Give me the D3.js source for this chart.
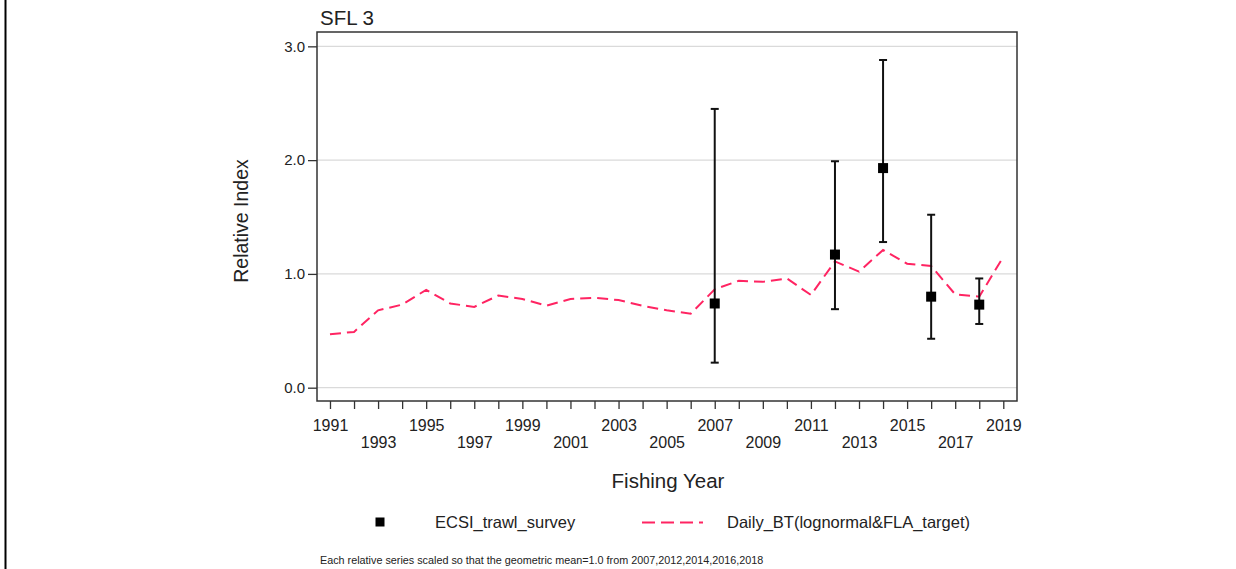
<!DOCTYPE html>
<html><head><meta charset="utf-8">
<script src="https://cdn.jsdelivr.net/npm/d3@7"></script>
<style>
html,body{margin:0;padding:0;background:#fff;}
svg{display:block;font-family:"Liberation Sans",Arial,Helvetica,sans-serif;}
</style></head>
<body>
<svg id="chart" width="1236" height="569"></svg>
<script>
const years = [1991,1992,1993,1994,1995,1996,1997,1998,1999,2000,2001,2002,2003,2004,2005,2006,2007,2008,2009,2010,2011,2012,2013,2014,2015,2016,2017,2018,2019];
const dailyBT = [0.47,0.49,0.68,0.73,0.86,0.74,0.71,0.81,0.78,0.72,0.78,0.79,0.77,0.72,0.68,0.65,0.865,0.94,0.93,0.96,0.815,1.11,1.02,1.21,1.09,1.07,0.82,0.80,1.15];
const surveyYears = [2007,2012,2014,2016,2018];
const surveyIndex = [0.74,1.17,1.93,0.80,0.73];
const surveyLower = [0.22,0.69,1.28,0.43,0.56];
const surveyUpper = [2.45,1.99,2.88,1.52,0.96];
const yTicks = [0,1,2,3];
const seriesNames = ["ECSI_trawl_survey","Daily_BT(lognormal&FLA_target)"];
const titleText = "SFL 3";
const xLabel = "Fishing Year";
const yLabel = "Relative Index";
const footnote = "Each relative series scaled so that the geometric mean=1.0 from 2007,2012,2014,2016,2018";

const svg = d3.select("#chart");
const L = 317, R = 1017, T = 32, B = 401;
const x = d3.scaleLinear().domain([1990.46, 2019.57]).range([L, R]);
const y = d3.scaleLinear().domain([-0.117, 3.126]).range([B, T]);
const lineColor = "#ff2462";
const FF = "Liberation Sans, Arial, sans-serif";

// page left border
svg.append("line").attr("x1",5.5).attr("x2",5.5).attr("y1",0).attr("y2",569)
  .attr("stroke","#000").attr("stroke-width",2);

// gridlines
svg.append("g").selectAll("line").data(yTicks).join("line")
  .attr("x1",L).attr("x2",R).attr("y1",d=>y(d)).attr("y2",d=>y(d))
  .attr("stroke","#dadada").attr("stroke-width",1.2);

// y axis
const yAx = svg.append("g").attr("transform",`translate(${L},0)`)
  .call(d3.axisLeft(y).tickValues(yTicks).tickFormat(d3.format(".1f")).tickSize(9).tickPadding(3));
yAx.select(".domain").remove();
yAx.selectAll("text").attr("font-size",15).attr("fill","#222").attr("font-family",FF);
yAx.selectAll("line").attr("stroke","#333").attr("stroke-width",1.3);

// x axis
const xAx = svg.append("g").attr("transform",`translate(0,${B})`)
  .call(d3.axisBottom(x).tickValues(years).tickFormat(d3.format("d")).tickSize(8));
xAx.select(".domain").remove();
xAx.selectAll("line").attr("stroke","#333").attr("stroke-width",1.3);
xAx.selectAll("text")
  .text(d => (d % 2 === 1) ? d : "")
  .attr("dy",null)
  .attr("y", d => ((d - 1991) % 4 === 0) ? 30 : 47)
  .attr("font-size",16).attr("fill","#222").attr("font-family",FF);

// frame
svg.append("rect").attr("x",L).attr("y",T).attr("width",R-L).attr("height",B-T)
  .attr("fill","none").attr("stroke","#333").attr("stroke-width",1.5);

// Daily_BT line
const lineGen = d3.line().x((d,i)=>x(years[i])).y(d=>y(d));
svg.append("path").datum(dailyBT).attr("d",lineGen)
  .attr("fill","none").attr("stroke",lineColor).attr("stroke-width",2)
  .attr("stroke-dasharray","11,6");

// survey error bars and points
const surv = surveyYears.map((yr,i)=>({yr, v:surveyIndex[i], lo:surveyLower[i], hi:surveyUpper[i]}));
const eg = svg.append("g");
eg.selectAll("line.bar").data(surv).join("line").attr("class","bar")
  .attr("x1",d=>x(d.yr)).attr("x2",d=>x(d.yr)).attr("y1",d=>y(d.lo)).attr("y2",d=>y(d.hi))
  .attr("stroke","#111").attr("stroke-width",2);
eg.selectAll("line.capH").data(surv).join("line").attr("class","capH")
  .attr("x1",d=>x(d.yr)-4).attr("x2",d=>x(d.yr)+4).attr("y1",d=>y(d.hi)).attr("y2",d=>y(d.hi))
  .attr("stroke","#111").attr("stroke-width",2);
eg.selectAll("line.capL").data(surv).join("line").attr("class","capL")
  .attr("x1",d=>x(d.yr)-4).attr("x2",d=>x(d.yr)+4).attr("y1",d=>y(d.lo)).attr("y2",d=>y(d.lo))
  .attr("stroke","#111").attr("stroke-width",2);
eg.selectAll("rect").data(surv).join("rect")
  .attr("x",d=>x(d.yr)-5).attr("y",d=>y(d.v)-5).attr("width",10).attr("height",10)
  .attr("fill","#000");

// title
svg.append("text").attr("x",320).attr("y",25).attr("font-size",20.5).attr("fill","#222").text(titleText);

// axis labels
svg.append("text").attr("x",668).attr("y",488).attr("text-anchor","middle")
  .attr("font-size",20.5).attr("fill","#222").text(xLabel);
svg.append("text").attr("transform",`translate(248,221) rotate(-90)`).attr("text-anchor","middle")
  .attr("font-size",19.5).attr("fill","#222").text(yLabel);

// legend
svg.append("rect").attr("x",375.5).attr("y",517.5).attr("width",9).attr("height",9).attr("fill","#000");
svg.append("text").attr("x",435).attr("y",528).attr("font-size",16.5).attr("fill","#222").text(seriesNames[0]);
svg.append("line").attr("x1",642).attr("x2",703).attr("y1",522.5).attr("y2",522.5)
  .attr("stroke",lineColor).attr("stroke-width",2).attr("stroke-dasharray","13,6");
svg.append("text").attr("x",727).attr("y",528).attr("font-size",16.5).attr("fill","#222").text(seriesNames[1]);

// footnote
svg.append("text").attr("x",320).attr("y",564).attr("font-size",10.8).attr("fill","#222").text(footnote);
</script>
</body></html>
